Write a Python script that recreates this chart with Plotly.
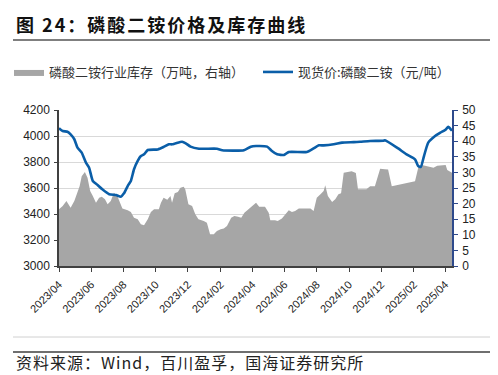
import plotly.graph_objects as go

# ---------------- data ----------------
price_dates = ['2023-04-01','2023-04-08','2023-04-17','2023-04-23','2023-04-30','2023-05-06','2023-05-14',
               '2023-05-22','2023-05-28','2023-06-04','2023-06-13','2023-06-22','2023-07-05','2023-07-18',
               '2023-07-27','2023-08-02','2023-08-09','2023-08-15','2023-08-21','2023-08-28','2023-09-03',
               '2023-09-09','2023-09-16','2023-10-05','2023-10-17','2023-10-26','2023-11-01','2023-11-08',
               '2023-11-20','2023-11-27','2023-12-06','2023-12-22','2024-01-25','2024-02-04','2024-03-16',
               '2024-03-29','2024-04-08','2024-04-29','2024-05-08','2024-05-18','2024-05-31','2024-06-09',
               '2024-07-13','2024-07-26','2024-08-05','2024-08-14','2024-09-02','2024-09-18','2024-10-10',
               '2024-10-22','2024-11-10','2024-12-05','2024-12-08','2024-12-31','2025-01-18','2025-02-03',
               '2025-02-09','2025-02-14','2025-02-20','2025-02-28','2025-03-13','2025-03-23','2025-04-01',
               '2025-04-07','2025-04-14']
price_values = [4060,4038,4033,4013,3975,3910,3872,3795,3756,3654,3623,3590,3552,3546,3533,3559,3615,3654,
                3744,3808,3846,3859,3892,3897,3918,3936,3936,3944,3956,3944,3918,3902,3902,3890,3890,3918,
                3923,3918,3885,3859,3854,3877,3877,3905,3928,3928,3936,3949,3953,3956,3962,3964,3967,3910,
                3859,3821,3769,3762,3846,3949,4000,4026,4046,4070,4040]

inv_dates = ['2023-04-01','2023-04-08','2023-04-15','2023-04-23','2023-04-30','2023-05-06','2023-05-10',
             '2023-05-14','2023-05-20','2023-05-25','2023-05-30','2023-06-04','2023-06-10','2023-06-16',
             '2023-06-21','2023-06-27','2023-07-02','2023-07-08','2023-07-14','2023-07-21','2023-07-25',
             '2023-07-30','2023-08-09','2023-08-15','2023-08-21','2023-08-28','2023-09-03','2023-09-09',
             '2023-09-16','2023-09-22','2023-09-28','2023-10-07','2023-10-11','2023-10-16','2023-10-23',
             '2023-10-29','2023-11-01','2023-11-06','2023-11-12','2023-11-17','2023-11-23','2023-11-26',
             '2023-12-02','2023-12-09','2023-12-15','2023-12-21','2023-12-31','2024-01-06','2024-01-12',
             '2024-01-19','2024-01-25','2024-02-01','2024-02-07','2024-02-13','2024-02-21','2024-02-27',
             '2024-03-05','2024-03-11','2024-03-17','2024-03-24','2024-03-30','2024-04-04','2024-04-08',
             '2024-04-14','2024-04-25','2024-05-02','2024-05-05','2024-05-14','2024-05-19','2024-05-27',
             '2024-06-02','2024-06-09','2024-06-15','2024-06-21','2024-06-28','2024-07-20','2024-07-26',
             '2024-08-01','2024-08-08','2024-08-14','2024-08-17','2024-08-22','2024-08-30','2024-09-05',
             '2024-09-11','2024-09-16','2024-09-21','2024-09-30','2024-10-06','2024-10-14','2024-10-18',
             '2024-11-03','2024-11-10','2024-11-19','2024-11-29','2024-12-08','2024-12-14','2024-12-21',
             '2025-01-05','2025-01-21','2025-02-03','2025-02-10','2025-02-16','2025-02-22','2025-02-28',
             '2025-03-10','2025-03-17','2025-03-29','2025-04-02','2025-04-05','2025-04-11','2025-04-14']
inv_values = [18.2,19.2,20.8,18.7,20.8,23.3,25.6,28.8,30.1,28.3,24.0,22.4,20.3,21.9,22.2,21.4,19.8,20.8,
              23.5,22.2,20.3,18.4,17.9,17.3,15.5,15.0,13.4,13.1,15.0,17.3,18.2,18.2,20.3,21.9,21.2,22.4,
              20.3,23.3,23.7,25.1,25.4,24.6,19.8,19.2,16.6,15.0,14.4,13.9,10.2,10.2,11.2,11.8,12.0,12.8,
              15.5,16.0,15.8,15.5,17.1,18.2,19.2,19.8,20.3,19.0,19.0,17.1,14.7,14.7,14.4,15.2,16.6,17.9,
              17.3,17.6,18.4,18.4,17.6,21.9,23.0,24.0,25.9,22.4,20.5,21.4,23.0,23.3,29.9,30.1,30.4,29.8,
              24.6,24.6,25.6,25.6,31.2,31.0,30.9,25.6,26.2,26.9,27.2,32.1,32.4,32.1,31.8,31.5,32.1,32.3,
              32.4,30.8,30.1,29.9]

tick_dates = ['2023-04-01','2023-06-01','2023-08-01','2023-10-01','2023-12-01','2024-02-01','2024-04-01',
              '2024-06-01','2024-08-01','2024-10-01','2024-12-01','2025-02-01','2025-04-01']
tick_labels = ['2023/04','2023/06','2023/08','2023/10','2023/12','2024/02','2024/04',
               '2024/06','2024/08','2024/10','2024/12','2025/02','2025/04']

inv_name = '磷酸二铵行业库存（万吨，右轴）'
price_name = '现货价:磷酸二铵（元/吨）'
title_text = '图 24：磷酸二铵价格及库存曲线'
source_text = '资料来源：Wind，百川盈孚，国海证券研究所'

# ---------------- layout geometry ----------------
W, H = 498, 375
PL, PR, PT, PB = 51, 444, 102, 258

def px(x):
    return (x - PL) / (PR - PL)

def py(y):
    return (PB - y) / (PB - PT)

CJK = 'Noto Sans CJK SC'
NUM = 'Liberation Sans, Arial'
GRAY = '#A6A6A6'
BLUE = '#0A5EA8'

fig = go.Figure()
fig.add_trace(go.Scatter(x=inv_dates, y=inv_values, name=inv_name, mode='lines',
                         line=dict(width=0, color=GRAY), fill='tozeroy', fillcolor=GRAY,
                         yaxis='y', legend='legend'))
fig.add_trace(go.Scatter(x=price_dates, y=price_values, name=price_name, mode='lines',
                         line=dict(width=2.6, color=BLUE, shape='spline', smoothing=0.5),
                         yaxis='y2', legend='legend2'))

legend_common = dict(orientation='h', xanchor='left', yanchor='top',
                     font=dict(family=CJK, size=13, color='#333333'), bgcolor='rgba(0,0,0,0)',
                     itemwidth=30, borderwidth=0)

fig.update_layout(
    width=W, height=H,
    margin=dict(l=PL, r=W - PR, t=PT, b=H - PB, autoexpand=False),
    paper_bgcolor='white', plot_bgcolor='white',
    showlegend=True,
    legend=dict(x=px(1), y=py(49), **legend_common),
    legend2=dict(x=px(250), y=py(49), **legend_common),
    xaxis=dict(type='date', range=['2023-04-01', '2025-04-14'], automargin=False,
               tickmode='array', tickvals=tick_dates, ticktext=tick_labels, tickangle=-45,
               ticks='outside', ticklen=4, tickcolor='#404040', tickwidth=1,
               showline=True, linecolor='#404040', linewidth=1.5, showgrid=False, zeroline=False,
               tickfont=dict(family=NUM, size=11, color='#222222'), ticklabelstandoff=2),
    yaxis=dict(range=[0, 50], dtick=5, side='right', showgrid=False, zeroline=False, automargin=False,
               showline=True, linecolor='#2E4A8C', linewidth=1.5,
               ticks='outside', ticklen=4, tickcolor='#2E4A8C',
               tickfont=dict(family=NUM, size=12, color='#222222'), ticklabelstandoff=2),
    yaxis2=dict(range=[3000, 4200], dtick=200, side='left', overlaying='y', anchor='x', automargin=False,
                showgrid=True, gridcolor='#D9D9D9', gridwidth=1, zeroline=False,
                showline=True, linecolor='#404040', linewidth=1.5,
                ticks='outside', ticklen=3, tickcolor='#404040',
                tickfont=dict(family=NUM, size=12, color='#222222'), ticklabelstandoff=2),
)

# title, source text
fig.add_annotation(text='<b><span style="letter-spacing:2px">' + title_text + '</span></b>',
                   xref='paper', yref='paper',
                   x=px(6), y=py(16), xanchor='left', yanchor='middle', showarrow=False,
                   font=dict(family=CJK, size=18, color='#111111'))
fig.add_annotation(text='<span style="letter-spacing:1px">' + source_text + '</span>',
                   xref='paper', yref='paper',
                   x=px(6), y=py(354), xanchor='left', yanchor='middle', showarrow=False,
                   font=dict(family=CJK, size=16, color='#222222'))

# separator lines
fig.add_shape(type='line', xref='paper', yref='paper', x0=px(5), x1=px(493), y0=py(32), y1=py(32),
              line=dict(color='#7F7F7F', width=2))
fig.add_shape(type='line', xref='paper', yref='paper', x0=px(5), x1=px(483), y0=py(329), y1=py(329),
              line=dict(color='#D0D0D0', width=1))
fig.add_shape(type='line', xref='paper', yref='paper', x0=px(5), x1=px(493), y0=py(344), y1=py(344),
              line=dict(color='#6F6F6F', width=2))

fig.write_html('out.html')
